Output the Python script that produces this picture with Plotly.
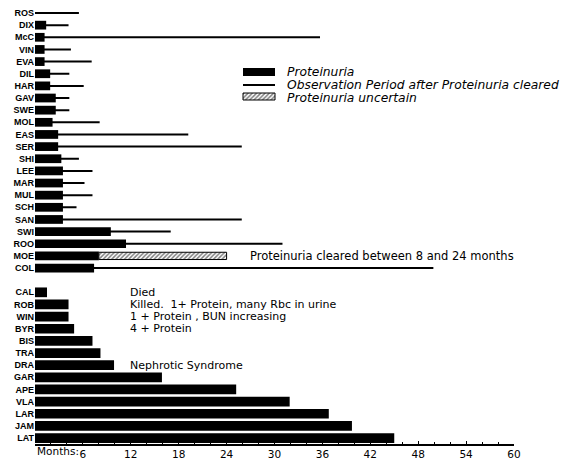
import plotly.graph_objects as go

# ---------------- data ----------------
top_names = ["ROS", "DIX", "McC", "VIN", "EVA", "DIL", "HAR", "GAV", "SWE", "MOL", "EAS",
             "SER", "SHI", "LEE", "MAR", "MUL", "SCH", "SAN", "SWI", "ROO", "MOE", "COL"]
top_proteinuria = [0, 1.4, 1.2, 1.2, 1.2, 1.9, 1.9, 2.6, 2.6, 2.2, 2.9,
                   2.9, 3.3, 3.5, 3.5, 3.5, 3.5, 3.5, 9.5, 11.4, 8.0, 7.4]
top_observation_end = [5.5, 4.2, 35.7, 4.5, 7.1, 4.3, 6.1, 4.3, 4.3, 8.1, 19.2,
                       25.9, 5.5, 7.2, 6.2, 7.2, 5.2, 25.9, 17.0, 31.0, None, 49.9]
uncertain_name = "MOE"
uncertain_start = 8
uncertain_end = 24

bottom_names = ["CAL", "ROB", "WIN", "BYR", "BIS", "TRA", "DRA", "GAR", "APE", "VLA",
                "LAR", "JAM", "LAT"]
bottom_proteinuria = [1.5, 4.2, 4.2, 4.9, 7.2, 8.2, 9.9, 15.9, 25.2, 31.9, 36.8, 39.7, 45.0]

notes = {
    "CAL": "Died",
    "ROB": "Killed.  1+ Protein, many Rbc in urine",
    "WIN": "1 + Protein , BUN increasing",
    "BYR": "4 + Protein",
    "DRA": "Nephrotic Syndrome",
}
moe_note = "Proteinuria cleared between 8 and 24 months"

x_ticks = [6, 12, 18, 24, 30, 36, 42, 48, 54, 60]
x_tick_labels = ["6", "12", "18", "24", "30", "36", "42", "48", "54", "60"]

legend_labels = ["Proteinuria", "Observation Period after Proteinuria cleared",
                 "Proteinuria uncertain"]

# ---------------- layout helpers ----------------
W, H = 563, 461
ML, MR, MT, MB = 35, 49, 5, 17
PW, PH = W - ML - MR, H - MT - MB
FONT = "DejaVu Sans, Verdana, sans-serif"


def px(p):
    return (p - ML) / PW


def py(p):
    return 1 - (p - MT) / PH


top_pos = list(range(len(top_names)))
bottom_pos = [len(top_names) + 1 + i for i in range(len(bottom_names))]
pos_of = dict(zip(top_names + bottom_names, top_pos + bottom_pos))
n_rows = len(top_names) + 1 + len(bottom_names)

hatch = dict(shape="/", fgcolor="black", bgcolor="white", size=3, solidity=0.5)

fig = go.Figure()

# observation lines (drawn first so bars cover the start)
lx, ly = [], []
for n, p, e in zip(top_names, top_pos, top_observation_end):
    if e is None:
        continue
    lx += [0, e, None]
    ly += [p, p, None]
fig.add_trace(go.Scatter(x=lx, y=ly, mode="lines", line=dict(color="black", width=2),
                         showlegend=False, hoverinfo="skip"))

# proteinuria bars (top)
fig.add_trace(go.Bar(x=top_proteinuria, y=top_pos, base=0, orientation="h", width=0.72,
                     marker=dict(color="black", line=dict(width=0)), showlegend=False))
# uncertain (hatched)
fig.add_trace(go.Bar(x=[uncertain_end - uncertain_start], y=[pos_of[uncertain_name]],
                     base=uncertain_start, orientation="h", width=0.6,
                     marker=dict(color="white", line=dict(color="black", width=1),
                                 pattern=hatch),
                     showlegend=False))
# proteinuria bars (bottom)
fig.add_trace(go.Bar(x=bottom_proteinuria, y=bottom_pos, base=0, orientation="h", width=0.8,
                     marker=dict(color="black", line=dict(width=0)), showlegend=False))

annotations = []
note_font = dict(family=FONT, size=11, color="black")
for name, t in notes.items():
    annotations.append(dict(x=11.8, y=pos_of[name], xref="x", yref="y", text=t,
                            showarrow=False, xanchor="left", yanchor="middle", font=note_font,
                            borderpad=0))
annotations.append(dict(x=26.8, y=pos_of[uncertain_name], xref="x", yref="y", text=moe_note,
                        showarrow=False, xanchor="left", yanchor="middle",
                        font=dict(family=FONT, size=11.5, color="black"), borderpad=0))
annotations.append(dict(x=6, y=py(451), xref="x", yref="paper", text="Months:",
                        showarrow=False, xanchor="right", yanchor="middle", xshift=-3,
                        font=dict(family=FONT, size=10.5, color="black"), borderpad=0))

# custom legend
shapes = []
leg_y = [72, 85, 98]
shapes.append(dict(type="rect", xref="paper", yref="paper", x0=px(243), x1=px(275),
                   y0=py(76), y1=py(68), fillcolor="black", line=dict(width=0)))
shapes.append(dict(type="line", xref="paper", yref="paper", x0=px(243), x1=px(275),
                   y0=py(85), y1=py(85), line=dict(color="black", width=2)))
for i, lab in enumerate(legend_labels):
    annotations.append(dict(x=px(286), y=py(leg_y[i]), xref="paper", yref="paper",
                            text="<i>" + lab + "</i>", showarrow=False, xanchor="left",
                            yanchor="middle", borderpad=0,
                            font=dict(family=FONT, size=12.3, color="black")))

# hatched legend swatch: bar on overlay axes whose ranges match paper coordinates
fig.add_trace(go.Bar(x=[px(275) - px(243)], y=[0], base=px(243), orientation="h", width=1,
                     xaxis="x2", yaxis="y2",
                     marker=dict(color="white", line=dict(color="black", width=1),
                                 pattern=hatch),
                     showlegend=False, hoverinfo="skip"))
h = py(93) - py(100)
c = (py(93) + py(100)) / 2
scale = 1.0 / h
lo = 0 - c * scale
hi = lo + scale

fig.update_layout(
    width=W, height=H,
    margin=dict(l=ML, r=MR, t=MT, b=MB, autoexpand=False),
    plot_bgcolor="white", paper_bgcolor="white",
    barmode="overlay",
    showlegend=False,
    xaxis=dict(range=[0, 60], tickvals=x_ticks, ticktext=x_tick_labels, automargin=False,
               showgrid=False, zeroline=False, showline=True, linecolor="black",
               linewidth=1.5, ticks="inside", ticklen=3, tickcolor="black",
               minor=dict(dtick=2, ticks="inside", ticklen=2, tickcolor="black"),
               tickfont=dict(family=FONT, size=10.5, color="black")),
    yaxis=dict(range=[n_rows - 1 + 0.49, -0.66], automargin=False,
               tickvals=top_pos + bottom_pos, ticktext=top_names + bottom_names,
               showgrid=False, zeroline=False, showline=False, ticks="",
               tickfont=dict(family="Liberation Sans, Arial, sans-serif", size=9,
                             color="black", weight="bold")),
    xaxis2=dict(overlaying="x", range=[0, 1], visible=False, fixedrange=True),
    yaxis2=dict(overlaying="y", range=[lo, hi], visible=False, fixedrange=True),
    annotations=annotations,
    shapes=shapes,
)

fig.write_html("out.html", config={"displayModeBar": False},
               post_script="document.body.style.margin='0';")
